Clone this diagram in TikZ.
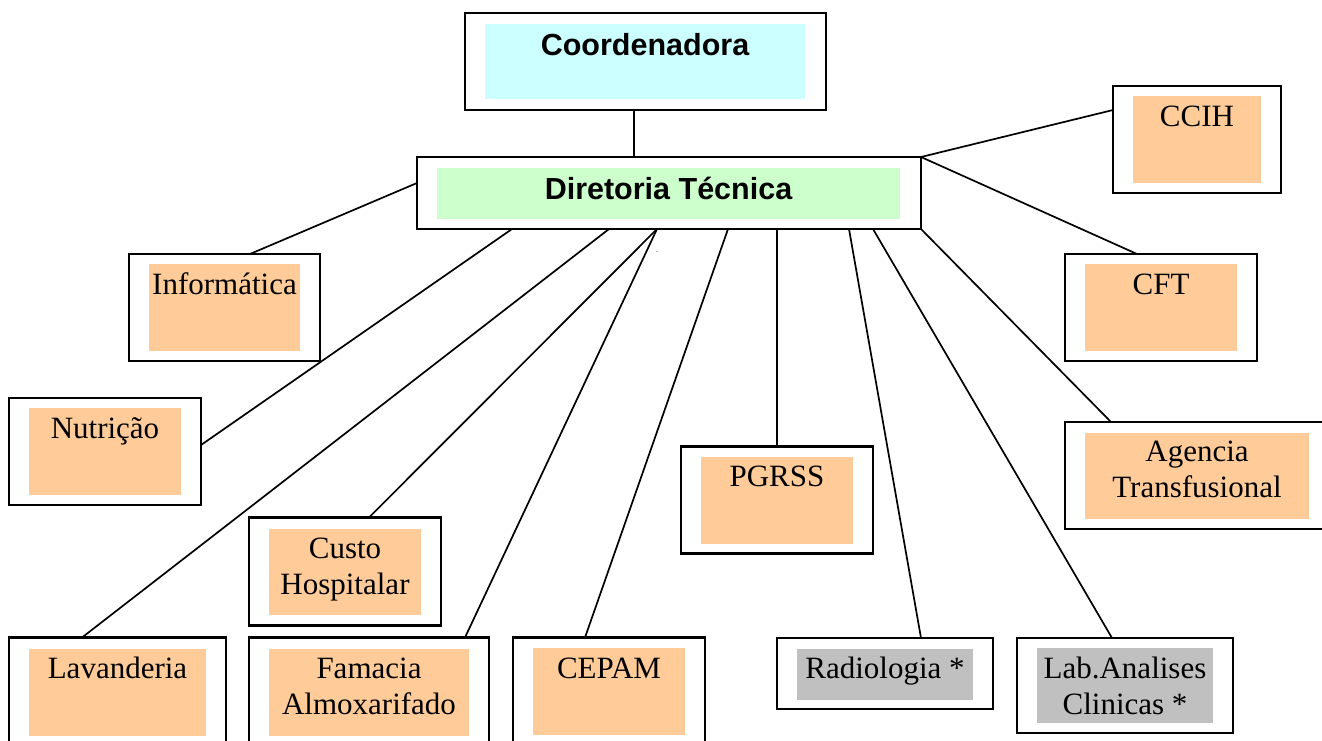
\documentclass[tikz,border=0pt]{standalone}
\usepackage{fontspec}
\setmainfont{Liberation Serif}
\setsansfont{Liberation Sans}
\definecolor{cyanfill}{HTML}{CCFFFF}
\definecolor{greenfill}{HTML}{CCFFCC}
\definecolor{orangefill}{HTML}{FFCC99}
\definecolor{grayfill}{HTML}{C0C0C0}
\begin{document}
\begin{tikzpicture}[x=1pt,y=-1pt,
  obox/.style={draw=black, line width=2.2pt, fill=white, rectangle, inner sep=0pt, outer sep=0pt},
  conn/.style={line width=1.7pt},
  lbl/.style={font=\fontsize{31}{36.7}\selectfont, anchor=base, align=center, inner sep=0pt},
  hl/.style={font=\sffamily\bfseries\fontsize{30.5}{36}\selectfont, anchor=base, inner sep=0pt},
]
\useasboundingbox (0,0) rectangle (1322,740);
\clip (0,0) rectangle (1322,740);

% Coordenadora
\node[obox, minimum width=361pt, minimum height=97pt] (co) at (645.5,61.5) {};
\fill[cyanfill] (485,24) rectangle (805,98.5);
\node[hl] (coT) at (645,55) {Coordenadora};

% Diretoria Tecnica
\node[obox, minimum width=504pt, minimum height=72pt] (dt) at (669,193) {};
\fill[greenfill] (437,168) rectangle (900,219);
\node[hl] (dtT) at (668.5,199) {Diretoria Técnica};

% CCIH
\node[obox, minimum width=168pt, minimum height=107pt] (ccih) at (1197,139.5) {};
\fill[orangefill] (1133,96) rectangle (1261,183);
\node[lbl] (ccihT) at (1197,126) {CCIH};

% Informatica
\node[obox, minimum width=191pt, minimum height=107pt] (inf) at (224.5,307.5) {};
\fill[orangefill] (149,264) rectangle (300,351);
\node[lbl] (infT) at (224.5,294) {Informática};

% CFT
\node[obox, minimum width=192pt, minimum height=107pt] (cft) at (1161,307.5) {};
\fill[orangefill] (1085,264) rectangle (1237,351);
\node[lbl] (cftT) at (1161,294) {CFT};

% Nutricao
\node[obox, minimum width=192pt, minimum height=107pt] (nut) at (105,451.5) {};
\fill[orangefill] (29,408) rectangle (181,495);
\node[lbl] (nutT) at (105,438) {Nutrição};

% PGRSS
\node[obox, minimum width=192pt, minimum height=107pt] (pg) at (777,500) {};
\fill[orangefill] (701,457) rectangle (853,544);
\node[lbl] (pgT) at (777,486) {PGRSS};

% Agencia Transfusional
\node[obox, minimum width=264pt, minimum height=107pt] (ag) at (1197,475.5) {};
\fill[orangefill] (1085,433) rectangle (1309,519);
\node[lbl] (agT) at (1197,497.7) {Agencia\\Transfusional};

% Custo Hospitalar
\node[obox, minimum width=192pt, minimum height=108pt] (cu) at (345,571.5) {};
\fill[orangefill] (269,529) rectangle (421,614.5);
\node[lbl] (cuT) at (345,594.7) {Custo\\Hospitalar};

% Lavanderia
\node[obox, minimum width=217pt, minimum height=110pt] (lav) at (117.5,692.5) {};
\fill[orangefill] (29,649) rectangle (206,735.5);
\node[lbl] (lavT) at (117.5,678) {Lavanderia};

% Famacia Almoxarifado
\node[obox, minimum width=240pt, minimum height=110pt] (fam) at (369,692.5) {};
\fill[orangefill] (269,649) rectangle (469,735.5);
\node[lbl] (famT) at (369,714.7) {Famacia\\Almoxarifado};

% CEPAM
\node[obox, minimum width=192pt, minimum height=110pt] (cep) at (609,692.5) {};
\fill[orangefill] (533,648) rectangle (685,735);
\node[lbl] (cepT) at (609,678) {CEPAM};

% Radiologia
\node[obox, minimum width=216pt, minimum height=71pt] (rad) at (885,673.5) {};
\fill[grayfill] (797,649) rectangle (973,699.5);
\node[lbl] (radT) at (885,678) {Radiologia *};

% Lab. Analises Clinicas
\node[obox, minimum width=216pt, minimum height=95pt] (lab) at (1125,685.5) {};
\fill[grayfill] (1037,648) rectangle (1213,723);
\node[lbl] (labT) at (1125,714.7) {Lab.Analises\\Clinicas *};

% stray dot
\node[font=\fontsize{8}{8}\selectfont, inner sep=0pt] (dot) at (657,252) {.};

% connectors
\draw[conn] ([xshift=-11.5pt]co.south) -- ([xshift=-35pt]dt.north);
\draw[conn] ([yshift=10pt]dt.west) -- ([xshift=25.5pt]inf.north);
\draw[conn] ([xshift=95pt]dt.south west) -- ([yshift=6.5pt]nut.east);
\draw[conn] ([xshift=192pt]dt.south west) -- ([xshift=73pt]lav.north west);
\draw[conn] ([xshift=240pt]dt.south west) -- ([xshift=120pt]cu.north west);
\draw[conn] ([xshift=240pt]dt.south west) -- ([xshift=216pt]fam.north west);
\draw[conn] ([xshift=311pt]dt.south west) -- ([xshift=72pt]cep.north west);
\draw[conn] ([xshift=360pt]dt.south west) -- (pg.north);
\draw[conn] ([xshift=432pt]dt.south west) -- ([xshift=144pt]rad.north west);
\draw[conn] ([xshift=456pt]dt.south west) -- ([xshift=95pt]lab.north west);
\draw[conn] (dt.south east) -- ([xshift=46pt]ag.north west);
\draw[conn] (dt.north east) -- ([yshift=29.5pt]ccih.west);
\draw[conn] (dt.north east) -- ([xshift=72pt]cft.north west);
\end{tikzpicture}
\end{document}
